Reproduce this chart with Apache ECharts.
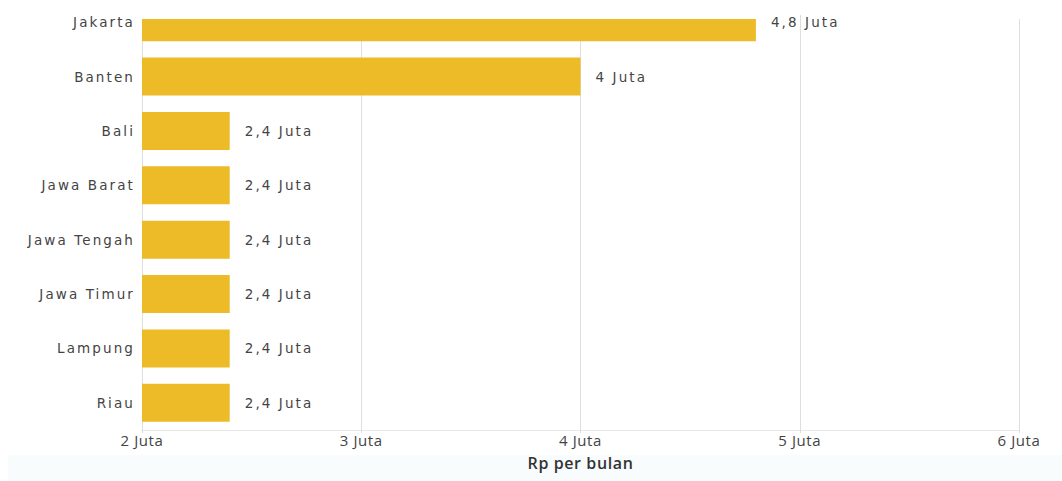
<!DOCTYPE html>
<html><head><meta charset="utf-8">
<script src="https://cdn.jsdelivr.net/npm/echarts@6/dist/echarts.min.js"></script>
<style>
html,body{margin:0;padding:0;background:#fff;width:1062px;height:481px;overflow:hidden;position:relative;}
#strip{position:absolute;left:8px;top:455px;width:1054px;height:26px;background:#f8fcfd;}
#chart{position:absolute;left:0;top:-5px;width:1062px;height:486px;}
#chart svg text{letter-spacing:2.1px;}
#chart svg text[style*="Open Sans"]{letter-spacing:0.6px;}
</style></head>
<body>
<div id="strip"></div>
<div id="chart"></div>
<script>
const categories = ["Jakarta","Banten","Bali","Jawa Barat","Jawa Tengah","Jawa Timur","Lampung","Riau"];
const values = [4.8, 4.0, 2.4, 2.4, 2.4, 2.4, 2.4, 2.4];
const tickValues = [2, 3, 4, 5, 6];
const unit = "Juta";
const axisTitle = "Rp per bulan";

function fmt(v){ return String(v).replace('.', ',') + ' ' + unit; }
const font = "'DejaVu Sans', Verdana, sans-serif";
const font2 = "'Open Sans', sans-serif";
const chart = echarts.init(document.getElementById('chart'), null, {renderer:'svg'});
chart.setOption({
  backgroundColor: 'transparent',
  animation: false,
  grid: {left: 142, right: 43, top: 0, bottom: 51, containLabel: false},
  graphic: [
    {type: 'rect', z: 10, silent: true, shape: {x: 138, y: 0, width: 628, height: 24}, style: {fill: '#ffffff'}},
    {type: 'rect', z: 10, silent: true, shape: {x: 766, y: 0, width: 300, height: 20}, style: {fill: '#ffffff'}},
    {type: 'rect', z: 10, silent: true, shape: {x: 850, y: 0, width: 220, height: 24}, style: {fill: '#ffffff'}}
  ],
  xAxis: {
    type: 'value', min: tickValues[0], max: tickValues[tickValues.length-1], interval: 1,
    name: axisTitle, nameLocation: 'middle', nameGap: 25,
    nameTextStyle: {fontFamily: font2, fontSize: 16, fontWeight: 600, color: '#333'},
    axisLine: {show: true, lineStyle: {color: '#e8e8e8'}},
    axisTick: {show: true, length: 3, lineStyle: {color: '#dcdcdc'}},
    axisLabel: {formatter: v => v + ' ' + unit, fontFamily: font2, fontSize: 15, color: '#444', margin: 2},
    splitLine: {show: true, lineStyle: {color: '#dedede', width: 1}}
  },
  yAxis: {
    type: 'category', data: categories, inverse: true,
    axisLine: {show: false}, axisTick: {show: false},
    axisLabel: {fontFamily: font, fontSize: 13.5, color: '#444', margin: 7}
  },
  series: [{
    type: 'bar', data: values, barCategoryGap: '30%',
    itemStyle: {color: '#EDBB27'},
    label: {show: true, position: 'right', distance: 15, formatter: p => fmt(p.value),
      fontFamily: font, fontSize: 13.5, color: '#444'}
  }]
});
</script>
</body></html>
